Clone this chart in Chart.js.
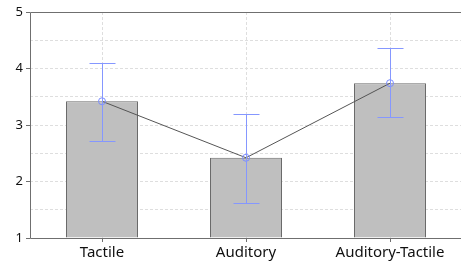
<!doctype html>
<html>
<head>
<meta charset="UTF-8">
<script src="https://cdn.jsdelivr.net/npm/chart.js@4/dist/chart.umd.min.js"></script>
<style>
html, body { margin:0; padding:0; background:#fff; overflow:hidden; }
/* the plot runs a few pixels past the right edge of the picture */
#wrap { width:461px; height:263px; overflow:hidden; position:relative; }
#BarChart { position:absolute; left:0; top:0; }
</style>
</head>
<body>
<div id="wrap"><canvas id="BarChart" width="467" height="263"></canvas></div>
<script>
// data
var categories = ["Tactile", "Auditory", "Auditory-Tactile"];
var means = [3.42, 2.42, 3.74];
var errLow = [2.72, 1.62, 3.14];
var errHigh = [4.10, 3.19, 4.36];
var yTicks = [1, 2, 3, 4, 5];

// error bars + frame
var extras = {
  id: 'extras',
  afterDatasetsDraw: function(chart) {
    var ctx = chart.ctx, x = chart.scales.x, y = chart.scales.y;
    ctx.save();
    ctx.strokeStyle = '#8597ff';
    ctx.lineWidth = 1;
    for (var i = 0; i < categories.length; i++) {
      var cx = Math.round(x.getPixelForValue(i)) + 0.5;
      var top = Math.round(y.getPixelForValue(errHigh[i])) + 0.5;
      var bot = Math.round(y.getPixelForValue(errLow[i])) + 0.5;
      ctx.beginPath();
      ctx.moveTo(cx, top); ctx.lineTo(cx, bot);
      ctx.moveTo(cx - 13, top); ctx.lineTo(cx + 13, top);
      ctx.moveTo(cx - 13, bot); ctx.lineTo(cx + 13, bot);
      ctx.stroke();
    }
    ctx.restore();
  },
  afterDraw: function(chart) {
    var ctx = chart.ctx, a = chart.chartArea;
    ctx.save();
    ctx.strokeStyle = '#6f6f6f';
    ctx.lineWidth = 1;
    ctx.beginPath();
    ctx.moveTo(a.left + 0.5, a.bottom + 0.5);
    ctx.lineTo(a.left + 0.5, a.top + 0.5);
    ctx.lineTo(a.right, a.top + 0.5);
    ctx.moveTo(a.left + 0.5, a.bottom + 0.5);
    ctx.lineTo(a.right, a.bottom + 0.5);
    ctx.stroke();
    ctx.restore();
  }
};

var ctx = document.getElementById("BarChart");
var BarChart = new Chart(ctx, {
  type: 'bar',
  data: {
    labels: categories,
    datasets: [{
        type: 'line',
        data: means,
        borderColor: '#555555',
        borderWidth: 1,
        pointRadius: 3.5,
        pointBorderColor: '#7a8cff',
        pointBackgroundColor: 'rgba(0,0,0,0)',
        pointBorderWidth: 1,
        order: 0
      }, {
        data: means,
        base: 1,
        backgroundColor: '#bfbfbf',
        borderColor: '#6a6a6a',
        borderWidth: 1,
        categoryPercentage: 1,
        barPercentage: 0.5,
        order: 1
      }
    ]
  },
  options: {
    responsive: false,
    animation: false,
    events: [],
    layout: { padding: { top: 12, right: 0, left: 0, bottom: 0 } },
    plugins: { legend: { display: false }, tooltip: { enabled: false } },
    scales: {
      x: {
        afterFit: function(s) { s.height = 25; },
        grid: { offset: false, color: '#dedede', tickColor: '#6f6f6f', tickLength: 4 },
        border: { display: false, dash: [3, 2] },
        ticks: { color: '#111', font: { family: 'Noto Sans', size: 15 }, padding: 2 }
      },
      y: {
        min: 1, max: 5,
        afterFit: function(s) { s.width = 30; },
        afterBuildTicks: function(s) {
          var t = [];
          for (var i = 0; i < yTicks.length; i++) {
            t.push({ value: yTicks[i] });
            if (i < yTicks.length - 1) t.push({ value: yTicks[i] + 0.5 });
          }
          s.ticks = t;
        },
        grid: {
          color: '#dedede',
          tickLength: 4,
          tickColor: function(c) { return Number.isInteger(c.tick.value) ? '#6f6f6f' : 'rgba(0,0,0,0)'; }
        },
        border: { display: false, dash: [3, 2] },
        ticks: {
          color: '#111', font: { family: 'Noto Sans', size: 13 }, padding: 3,
          callback: function(v) { return Number.isInteger(v) ? v : ''; }
        }
      }
    }
  },
  plugins: [extras]
});
</script>
</body>
</html>
